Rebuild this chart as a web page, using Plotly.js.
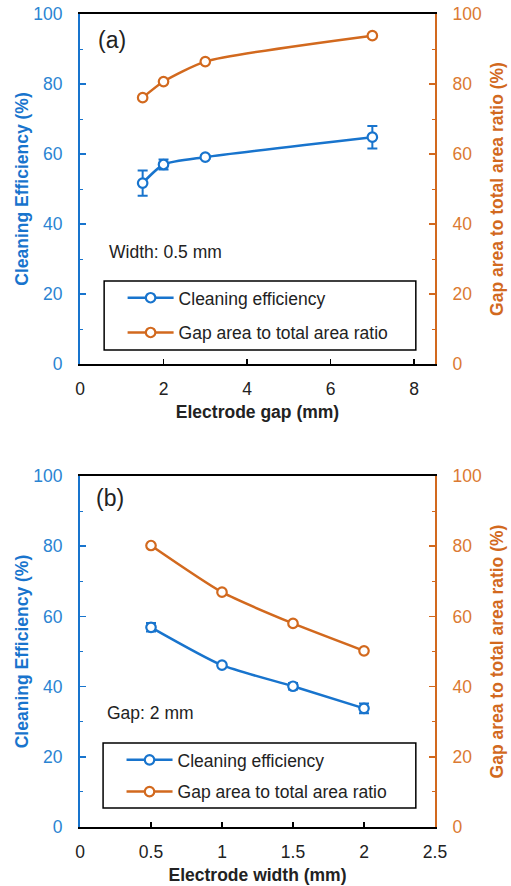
<!DOCTYPE html>
<html>
<head>
<meta charset="utf-8">
<script src="https://cdn.plot.ly/plotly-3.0.1.min.js"></script>
<style>html,body{margin:0;padding:0;background:#fff;}#chart{width:511px;height:886px;}</style>
</head>
<body>
<div id="chart"></div>
<script>
// ----- Data: panel (a) -----
const gapX = [1.5, 2, 3, 7];
const gapCleaning = [51.7, 57.0, 59.1, 64.8];
const gapCleaningErr = [3.6, 1.4, 0.5, 3.2];
const gapRatio = [76.1, 80.7, 86.4, 93.8];

// ----- Data: panel (b) -----
const widthX = [0.5, 1, 1.5, 2];
const widthCleaning = [56.9, 46.1, 40.1, 33.8];
const widthCleaningErr = [1.2, 0.6, 0.9, 1.4];
const widthRatio = [80.2, 66.9, 58.0, 50.2];

const seriesNames = ['Cleaning efficiency', 'Gap area to total area ratio'];
const yTicks = [0, 20, 40, 60, 80, 100];

const BLUE = '#1874CD';
const BLUE_T = '#2A84D2';
const ORANGE = '#D2691E';
const ORANGE_T = '#DB7A32';
const FONT = 'Arial, "Liberation Sans", sans-serif';
const FS = 17.5;

function lineTrace(x, y, err, name, color, xa, ya, legend, group) {
  const t = {
    x: x, y: y, name: name, type: 'scatter', mode: 'lines+markers',
    xaxis: xa, yaxis: ya, legend: legend, legendgroup: group,
    line: {color: color, width: 2.5, shape: 'spline', smoothing: 0.6},
    marker: {symbol: 'circle', size: 9.5, color: '#fff', line: {color: color, width: 2.2}},
    cliponaxis: false
  };
  if (err) {
    t.error_y = {type: 'data', array: err, visible: true, color: color, thickness: 2, width: 5};
  }
  return t;
}

const data = [
  lineTrace(gapX, gapCleaning, gapCleaningErr, seriesNames[0], BLUE, 'x', 'y', 'legend', 'a1'),
  lineTrace(gapX, gapRatio, null, seriesNames[1], ORANGE, 'x', 'y2', 'legend', 'a2'),
  lineTrace(widthX, widthCleaning, widthCleaningErr, seriesNames[0], BLUE, 'x2', 'y3', 'legend2', 'b1'),
  lineTrace(widthX, widthRatio, null, seriesNames[1], ORANGE, 'x2', 'y4', 'legend2', 'b2')
];

const topDom = [0.5695, 1];
const botDom = [0, 0.4317];

function xAxis(range, dtick, title, anchor) {
  return {
    domain: [0, 1], range: range, dtick: dtick, tick0: 0, anchor: anchor,
    showgrid: false, zeroline: false, showline: true, linecolor: '#000', linewidth: 2,
    mirror: true, ticks: 'inside', ticklen: 5, tickwidth: 1.5, tickcolor: '#000',
    ticklabelstandoff: 8,
    tickfont: {family: FONT, size: FS, color: '#222'},
    title: {text: title, font: {family: FONT, size: FS, color: '#222', weight: 'bold'}, standoff: 8},
    automargin: false
  };
}
function yAxis(side, color, tcolor, title, anchor, dom, overlay, standoff) {
  const a = {
    domain: dom, range: [0, 100], tickvals: yTicks, side: side, anchor: anchor,
    showgrid: false, zeroline: false, showline: true, linecolor: color, linewidth: 2,
    ticks: 'inside', ticklen: 6, tickwidth: 1.5, tickcolor: color,
    minor: {dtick: 10, tick0: 0, ticks: 'inside', ticklen: 3, tickcolor: color, tickwidth: 1},
    ticklabelstandoff: 12,
    tickfont: {family: FONT, size: FS, color: tcolor},
    title: {text: title, font: {family: FONT, size: FS, color: color, weight: 'bold'}, standoff: standoff},
    automargin: false
  };
  if (overlay) a.overlaying = overlay;
  return a;
}

const layout = {
  width: 511, height: 886,
  margin: {l: 80, r: 76, t: 14, b: 59},
  paper_bgcolor: '#fff', plot_bgcolor: 'rgba(0,0,0,0)',
  font: {family: FONT, size: FS, color: '#222'},
  showlegend: true,
  xaxis: xAxis([0, 8.5], 2, 'Electrode gap (mm)', 'y'),
  yaxis: yAxis('left', BLUE, BLUE_T, 'Cleaning Efficiency (%)', 'x', topDom, null, 0),
  yaxis2: yAxis('right', ORANGE, ORANGE_T, 'Gap area to total area ratio (%)', 'x', topDom, 'y', 10),
  xaxis2: xAxis([0, 2.5], 0.5, 'Electrode width (mm)', 'y3'),
  yaxis3: yAxis('left', BLUE, BLUE_T, 'Cleaning Efficiency (%)', 'x2', botDom, null, 0),
  yaxis4: yAxis('right', ORANGE, ORANGE_T, 'Gap area to total area ratio (%)', 'x2', botDom, 'y3', 10),
  legend: {
    x: 0.12, y: 0.673, xanchor: 'left', yanchor: 'top', bgcolor: 'rgba(0,0,0,0)',
    borderwidth: 0, traceorder: 'grouped', tracegroupgap: 9,
    font: {family: FONT, size: FS, color: '#222'}, itemwidth: 46
  },
  legend2: {
    x: 0.117, y: 0.1046, xanchor: 'left', yanchor: 'top', bgcolor: 'rgba(0,0,0,0)',
    borderwidth: 0, traceorder: 'grouped', tracegroupgap: 6,
    font: {family: FONT, size: FS, color: '#222'}, itemwidth: 46
  },
  shapes: [
    {type: 'rect', xref: 'x domain', yref: 'y domain', x0: 0.068, x1: 0.946, y0: 0.04, y1: 0.237,
      line: {color: '#000', width: 1.5}},
    {type: 'rect', xref: 'x2 domain', yref: 'y3 domain', x0: 0.065, x1: 0.946, y0: 0.054, y1: 0.239,
      line: {color: '#000', width: 1.5}}
  ],
  annotations: [
    {text: '(a)', xref: 'x domain', yref: 'y domain', x: 0.045, y: 0.926, xanchor: 'left', yanchor: 'middle',
      showarrow: false, font: {family: FONT, size: 23, color: '#222'}},
    {text: 'Width: 0.5 mm', xref: 'x domain', yref: 'y domain', x: 0.076, y: 0.32, xanchor: 'left', yanchor: 'middle',
      showarrow: false, font: {family: FONT, size: FS, color: '#222'}},
    {text: '(b)', xref: 'x2 domain', yref: 'y3 domain', x: 0.04, y: 0.937, xanchor: 'left', yanchor: 'middle',
      showarrow: false, font: {family: FONT, size: 23, color: '#222'}},
    {text: 'Gap: 2 mm', xref: 'x2 domain', yref: 'y3 domain', x: 0.07, y: 0.325, xanchor: 'left', yanchor: 'middle',
      showarrow: false, font: {family: FONT, size: FS, color: '#222'}}
  ]
};

Plotly.newPlot('chart', data, layout, {displayModeBar: false, staticPlot: true});
</script>
</body>
</html>
